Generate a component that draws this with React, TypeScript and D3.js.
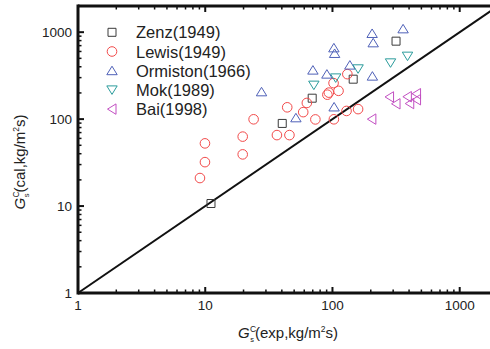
import React from "react";
import * as d3 from "d3";

const zenzX = [11.1, 40.3, 69.3, 145.5, 316];
const zenzY = [10.7, 89.2, 174, 288, 788];

const lewisX = [9.95, 9.95, 9.09, 19.7, 19.7, 24.0, 36.6, 45.9, 44.1, 58.9, 62.9, 73.4, 91.2, 93.7, 111.6, 102, 130.9, 102.6, 129, 159];
const lewisY = [52.6, 32.0, 21.0, 62.9, 39.3, 99.5, 65.5, 65.5, 136.7, 120.3, 153.5, 99.2, 191, 201.7, 211.5, 259.4, 329, 99.5, 124.2, 130.3];

const ormX = [27.7, 51.6, 70.2, 90.4, 102.6, 104, 103, 137, 205, 209, 206, 359];
const ormY = [206, 103.5, 366, 329, 660, 569, 138, 418, 966, 754, 312, 1092];

const mokX = [71.4, 106, 159, 286, 389];
const mokY = [246, 298, 379, 444, 530];

const baiX = [281, 316, 388, 405, 458, 458, 204];
const baiY = [180, 150, 181, 151, 196, 167, 100];

const xTicks = [1, 10, 100, 1000];
const yTicks = [1, 10, 100, 1000];
const legendNames = ["Zenz(1949)", "Lewis(1949)", "Ormiston(1966)", "Mok(1989)", "Bai(1998)"];
const colors = ["#3a3a3a", "#f24a4a", "#4f61b8", "#2b9c9c", "#c24fc2"];
const shapes = ["square", "circle", "up", "down", "left"];

const W = 490, H = 349;
const L = 78, R = 498, T = 6, B = 293;
const FONT = "'Liberation Sans', Arial, sans-serif";

function shapePath(shape: string, cx: number, cy: number): string {
  const s = 4;
  switch (shape) {
    case "square":
      return `M${cx - s},${cy - s}h${2 * s}v${2 * s}h${-2 * s}Z`;
    case "up":
      return `M${cx},${cy - 4.5}L${cx + 5.2},${cy + 4}L${cx - 5.2},${cy + 4}Z`;
    case "down":
      return `M${cx},${cy + 4.5}L${cx + 5.2},${cy - 4}L${cx - 5.2},${cy - 4}Z`;
    case "left":
      return `M${cx - 4.5},${cy}L${cx + 4},${cy - 5.2}L${cx + 4},${cy + 5.2}Z`;
    default:
      return "";
  }
}

function Marker({ shape, cx, cy, color }: { shape: string; cx: number; cy: number; color: string }) {
  if (shape === "circle")
    return <circle cx={cx} cy={cy} r={4.8} fill="none" stroke={color} strokeWidth={1} />;
  return <path d={shapePath(shape, cx, cy)} fill="none" stroke={color} strokeWidth={1} />;
}

function Title({ inner }: { inner: string }) {
  return (
    <>
      <tspan fontStyle="italic">G</tspan>
      <tspan fontSize={8.5} dx={0.5} dy={-6.5}>C</tspan>
      <tspan fontSize={7.5} dx={-6} dy={10.5}>s</tspan>
      <tspan fontSize={15} dx={1} dy={-4}>({inner},kg/m</tspan>
      <tspan fontSize={8.5} dy={-6}>2</tspan>
      <tspan fontSize={15} dy={6}>s)</tspan>
    </>
  );
}

export default function App() {
  const x = d3.scaleLog().domain([1, 2000]).range([L, R]);
  const y = d3.scaleLog().domain([1, 2000]).range([B, T]);

  const minor: number[] = [];
  for (let d = 1; d <= 1000; d *= 10) for (let k = 2; k <= 9; k++) if (d * k <= 2000) minor.push(d * k);

  const series = [
    [zenzX, zenzY],
    [lewisX, lewisY],
    [ormX, ormY],
    [mokX, mokY],
    [baiX, baiY],
  ];

  const line = d3.line<number>().x((v) => x(v)).y((v) => y(v));

  return (
    <svg width={W} height={H} style={{ position: "absolute", left: 0, top: 0, background: "#fff" }} fontFamily={FONT}>
      <rect x={0} y={0} width={W} height={H} fill="#fff" />
      <path d={line([1, 2000]) || ""} stroke="#111" strokeWidth={2} fill="none" />
      {series.map(([xs, ys], si) =>
        xs.map((xv, i) => (
          <Marker key={`${si}-${i}`} shape={shapes[si]} cx={x(xv)} cy={y(ys[i])} color={colors[si]} />
        ))
      )}
      <line x1={L} y1={B} x2={R} y2={B} stroke="#111" strokeWidth={3} />
      <line x1={L} y1={T} x2={R} y2={T} stroke="#111" strokeWidth={3} />
      <line x1={L} y1={T - 1.5} x2={L} y2={B + 1.5} stroke="#111" strokeWidth={3} />
      <line x1={R} y1={T - 1.5} x2={R} y2={B + 1.5} stroke="#111" strokeWidth={3} />
      {xTicks.map((t) => (
        <g key={`xt${t}`}>
          <line x1={x(t)} x2={x(t)} y1={B} y2={B - 6} stroke="#111" strokeWidth={2} />
          <line x1={x(t)} x2={x(t)} y1={T} y2={T + 6} stroke="#111" strokeWidth={2} />
          <text x={x(t)} y={310} textAnchor="middle" fontSize={13.5} fill="#222">{t}</text>
        </g>
      ))}
      {minor.map((t) => (
        <g key={`xm${t}`}>
          <line x1={x(t)} x2={x(t)} y1={B} y2={B - 3.5} stroke="#111" strokeWidth={1.5} />
          <line x1={x(t)} x2={x(t)} y1={T} y2={T + 3.5} stroke="#111" strokeWidth={1.5} />
        </g>
      ))}
      {yTicks.map((t) => (
        <g key={`yt${t}`}>
          <line x1={L} x2={L + 6} y1={y(t)} y2={y(t)} stroke="#111" strokeWidth={2} />
          <text x={72} y={y(t) + 5} textAnchor="end" fontSize={13.5} fill="#222">{t}</text>
        </g>
      ))}
      {minor.map((t) => (
        <line key={`ym${t}`} x1={L} x2={L + 3.5} y1={y(t)} y2={y(t)} stroke="#111" strokeWidth={1.5} />
      ))}
      {legendNames.map((n, i) => (
        <g key={n}>
          <Marker shape={shapes[i]} cx={112} cy={32.3 + i * 19.2} color={colors[i]} />
          <text x={136} y={32.3 + i * 19.2 + 6} fontSize={16.5} fill="#222">{n}</text>
        </g>
      ))}
      <text x={288} y={338} textAnchor="middle" fontSize={15} fill="#222">
        <Title inner="exp" />
      </text>
      <text transform={`translate(25,162) rotate(-90)`} textAnchor="middle" fontSize={15} fill="#222">
        <Title inner="cal" />
      </text>
    </svg>
  );
}
